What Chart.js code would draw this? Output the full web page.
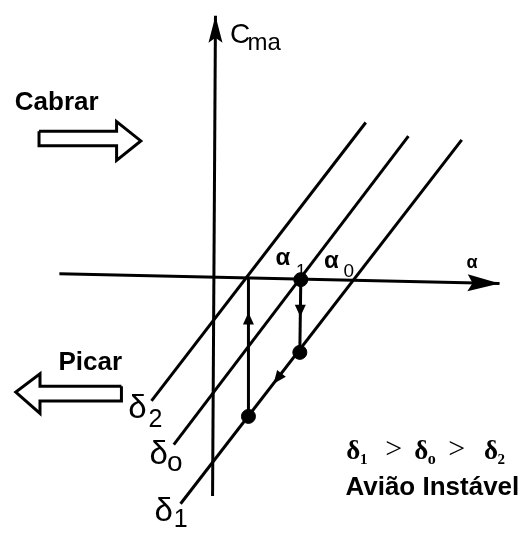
<!DOCTYPE html>
<html>
<head>
<meta charset="utf-8">
<script src="https://cdn.jsdelivr.net/npm/chart.js"></script>
<style>
  body { margin: 0; background: #fff; }
</style>
</head>
<body>
<canvas id="trimChart" width="525" height="535"></canvas>
<script>
// axes, in diagram units (alpha along x, Cm along y)
var alphaAxis = [{x: -3.18, y: 0.07}, {x: 5.90, y: -0.13}];
var cmAxis = [{x: -0.02, y: -4.51}, {x: 0.04, y: 5.39}];

// Cm-alpha lines for each elevator deflection
var delta2 = [{x: -1.28, y: -2.55}, {x: 3.14, y: 3.19}];
var delta0 = [{x: -0.82, y: -3.45}, {x: 4.02, y: 2.91}];
var delta1 = [{x: -0.68, y: -4.67}, {x: 5.12, y: 2.83}];

// equilibrium points and the path between them
var trimPoints = [{x: 1.80, y: -0.05}, {x: 1.78, y: -1.55}, {x: 0.72, y: -2.87}];
var pathDown = [{x: 1.80, y: -0.05}, {x: 1.78, y: -1.55}];
var pathUp = [{x: 0.72, y: -2.87}, {x: 0.72, y: -0.03}];

// big hollow arrows (pitch up / pitch down)
var cabrarArrow = [{x: -3.60, y: 3.01}, {x: -2.00, y: 3.01}, {x: -2.00, y: 3.21}, {x: -1.50, y: 2.81},
                   {x: -2.00, y: 2.41}, {x: -2.00, y: 2.71}, {x: -3.60, y: 2.71}, {x: -3.60, y: 3.01}];
var picarArrow = [{x: -1.90, y: -2.25}, {x: -3.58, y: -2.25}, {x: -3.58, y: -1.99}, {x: -4.08, y: -2.37},
                  {x: -3.58, y: -2.81}, {x: -3.58, y: -2.55}, {x: -1.90, y: -2.55}, {x: -1.90, y: -2.25}];

// arrowheads: position, direction, length, width (px)
var heads = [
  {x: 0.04, y: 5.39, dx: 0, dy: 1, len: 27, w: 14, tip: true},
  {x: 5.90, y: -0.13, dx: 1, dy: -0.022, len: 32, w: 17, tip: true},
  {x: 0.72, y: -0.85, dx: 0, dy: 1, len: 12, w: 11},
  {x: 1.79, y: -0.69, dx: 0, dy: -1, len: 12, w: 11},
  {x: 1.32, y: -2.09, dx: -1, dy: -1.293, len: 13, w: 11}
];

var sans = '"Liberation Sans", Arial, sans-serif';
var serif = '"Liberation Serif", "Times New Roman", serif';
var notes = [
  {t: 'C', x: 0.34, y: 4.83, f: '28px ' + sans},
  {t: 'ma', x: 0.70, y: 4.69, f: '24px ' + sans},
  {t: 'Cabrar', x: -4.10, y: 3.45, f: 'bold 26px ' + sans},
  {t: 'Picar', x: -3.20, y: -1.91, f: 'bold 26px ' + sans},
  {t: 'α', x: 5.22, y: 0.19, f: 'bold 18px ' + sans},
  {t: 'α', x: 1.28, y: 0.25, f: 'bold 24px ' + sans},
  {t: '1', x: 1.70, y: 0.01, f: '18px ' + sans},
  {t: 'α', x: 2.28, y: 0.19, f: 'bold 24px ' + sans},
  {t: '0', x: 2.68, y: 0.01, f: '19px ' + sans},
  {t: 'δ', x: -1.76, y: -2.91, f: '33px ' + sans},
  {t: '2', x: -1.34, y: -3.09, f: '25px ' + sans},
  {t: 'δ', x: -1.32, y: -3.85, f: '33px ' + sans},
  {t: 'o', x: -0.96, y: -3.99, f: '28px ' + sans},
  {t: 'δ', x: -1.22, y: -5.03, f: '33px ' + sans},
  {t: '1', x: -0.82, y: -5.14, f: '25px ' + sans},
  {t: 'δ', x: 2.74, y: -3.75, f: 'bold 27px ' + serif},
  {t: '1', x: 3.02, y: -3.85, f: 'bold 15px ' + serif},
  {t: '>', x: 3.54, y: -3.73, f: '30px ' + serif},
  {t: 'δ', x: 4.14, y: -3.75, f: 'bold 27px ' + serif},
  {t: 'o', x: 4.42, y: -3.85, f: 'bold 16px ' + serif},
  {t: '>', x: 4.84, y: -3.73, f: '30px ' + serif},
  {t: 'δ', x: 5.58, y: -3.75, f: 'bold 27px ' + serif},
  {t: '2', x: 5.86, y: -3.85, f: 'bold 15px ' + serif},
  {t: 'Avião Instável', x: 2.72, y: -4.49, f: 'bold 26px ' + sans}
];

function seg(data, width) {
  return {data: data, showLine: true, borderColor: '#000', borderWidth: width,
          pointRadius: 0, fill: false, clip: false};
}

var decorations = {
  id: 'decorations',
  afterDatasetsDraw: function(chart) {
    var ctx = chart.ctx, sx = chart.scales.x, sy = chart.scales.y;
    ctx.save();
    ctx.fillStyle = '#000';
    heads.forEach(function(h) {
      var px = sx.getPixelForValue(h.x), py = sy.getPixelForValue(h.y);
      var qx = sx.getPixelForValue(h.x + h.dx) - px, qy = sy.getPixelForValue(h.y + h.dy) - py;
      var n = Math.sqrt(qx * qx + qy * qy), ux = qx / n, uy = qy / n;
      // small arrows are centred on their point, axis arrows end at it
      var tx = h.tip ? px : px + ux * h.len / 2, ty = h.tip ? py : py + uy * h.len / 2;
      var bx = tx - ux * h.len, by = ty - uy * h.len;
      var notch = h.tip ? 5 : 0;
      ctx.beginPath();
      ctx.moveTo(tx, ty);
      ctx.lineTo(bx - uy * h.w / 2, by + ux * h.w / 2);
      ctx.lineTo(bx + ux * notch, by + uy * notch);
      ctx.lineTo(bx + uy * h.w / 2, by - ux * h.w / 2);
      ctx.closePath();
      ctx.fill();
    });
    ctx.textAlign = 'left';
    ctx.textBaseline = 'alphabetic';
    notes.forEach(function(n) {
      ctx.font = n.f;
      ctx.fillText(n.t, sx.getPixelForValue(n.x), sy.getPixelForValue(n.y));
    });
    ctx.restore();
  }
};

new Chart('trimChart', {
  type: 'scatter',
  data: {
    datasets: [
      seg(alphaAxis, 3),
      seg(cmAxis, 3),
      seg(delta2, 3),
      seg(delta0, 3),
      seg(delta1, 3),
      seg(pathDown, 3),
      seg(pathUp, 3),
      seg(cabrarArrow, 3),
      seg(picarArrow, 3),
      {data: trimPoints, pointRadius: 7, pointBackgroundColor: '#000',
       pointBorderColor: '#000', pointBorderWidth: 1, showLine: false, clip: false}
    ]
  },
  options: {
    responsive: false,
    animation: false,
    layout: {padding: 0},
    plugins: {legend: {display: false}, tooltip: {enabled: false}},
    elements: {line: {tension: 0, borderJoinStyle: 'miter'}},
    scales: {
      x: {type: 'linear', min: -4.24, max: 6.26, display: false},
      y: {type: 'linear', min: -5.15, max: 5.55, display: false}
    }
  },
  plugins: [decorations]
});
</script>
</body>
</html>
